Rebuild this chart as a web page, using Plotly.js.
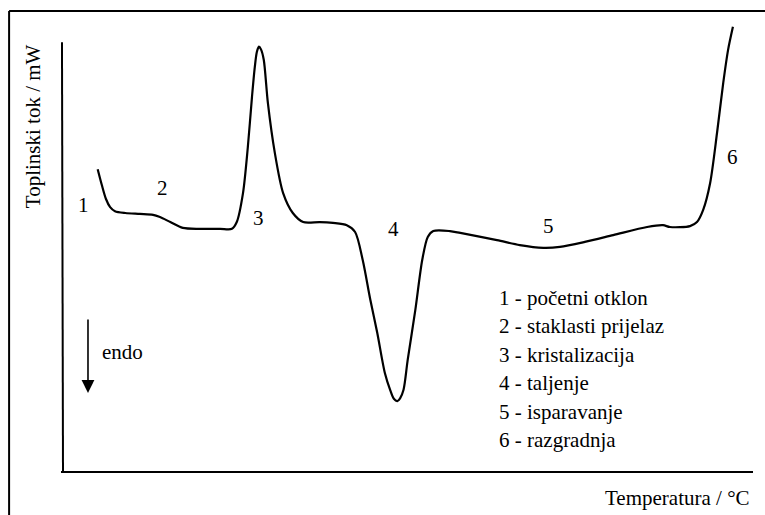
<!DOCTYPE html>
<html>
<head>
<meta charset="utf-8">
<script src="https://cdn.plot.ly/plotly-3.0.1.min.js"></script>
<style>
html,body{margin:0;padding:0;background:#fff;}
#chart{width:765px;height:515px;}
</style>
</head>
<body>
<div id="chart"></div>
<script>
// Temperature (arbitrary units) and heat flow (arbitrary units)
var temperature = [5.3, 5.9, 6.5, 7.1, 7.8, 9.3, 11.4, 13.3, 14.3, 15.8, 17.6, 20.1, 23.0, 24.7,
  25.4, 26.3, 27.0, 27.6, 28.0, 28.3, 28.6, 28.9, 29.3, 29.9, 30.9, 32.1, 33.5, 35.0, 37.4, 39.3,
  41.3, 42.5, 43.6, 44.7, 45.7, 46.8, 47.6, 48.1, 48.6, 49.0, 49.5, 50.1, 51.2, 52.2, 53.0, 53.8,
  56.2, 57.7, 63.0, 66.3, 69.7, 72.1, 75.7, 79.8, 84.7, 87.0, 88.0, 90.9, 91.9, 92.8,
  93.8, 94.8, 95.7, 96.4, 97.1];
var heatFlow = [67.0, 63.5, 60.4, 58.6, 57.7, 57.3, 57.1, 56.9, 56.4, 55.3, 54.0, 53.8, 53.8, 53.8,
  55.3, 61.7, 71.9, 83.0, 89.5, 92.9, 94.1, 93.5, 91.2, 81.6, 70.6, 61.7, 57.3, 55.3, 55.3, 55.1,
  54.6, 53.1, 46.9, 38.1, 30.8, 21.9, 18.0, 16.2, 15.7, 16.3, 18.2, 24.8, 35.8, 46.9, 52.0, 53.3,
  53.3, 52.9, 51.3, 50.2, 49.6, 49.8, 50.9, 52.4, 54.2, 54.6, 54.2, 54.4, 55.3, 58.0,
  63.9, 75.0, 86.1, 93.4, 98.5];

// Event labels on the curve
var eventLabels = ["1", "2", "3", "4", "5", "6"];
var eventX = [3.2, 14.7, 28.5, 48.1, 70.4, 97.0];
var eventY = [59.1, 62.8, 56.2, 53.8, 54.4, 69.7];

// Legend text
var legendLines = ["1 - početni otklon", "2 - staklasti prijelaz", "3 - kristalizacija",
  "4 - taljenje", "5 - isparavanje", "6 - razgradnja"];

var xTitle = "Temperatura / °C";
var yTitle = "Toplinski tok / mW";
var endoLabel = "endo";

var FONT = "'Liberation Serif', 'DejaVu Serif', serif";
var TXT = "#000";

var annotations = [];
for (var i = 0; i < eventLabels.length; i++) {
  annotations.push({x: eventX[i], y: eventY[i], xref: "x", yref: "y", text: eventLabels[i],
    showarrow: false, font: {family: FONT, size: 21, color: TXT}});
}
for (var j = 0; j < legendLines.length; j++) {
  annotations.push({x: 63.0, y: 38.5 - 6.3 * j, xref: "x", yref: "y", text: legendLines[j],
    xanchor: "left", yanchor: "middle", showarrow: false, font: {family: FONT, size: 21, color: TXT}});
}
annotations.push({x: 0.9986, y: -0.0575, xref: "paper", yref: "paper", text: xTitle,
  xanchor: "right", yanchor: "middle", showarrow: false, font: {family: FONT, size: 21, color: TXT}});
annotations.push({x: -0.0405, y: 0.765, xref: "paper", yref: "paper", text: yTitle, textangle: -90,
  xanchor: "center", yanchor: "middle", showarrow: false, font: {family: FONT, size: 21, color: TXT}});
annotations.push({x: 5.6, y: 26.6, xref: "x", yref: "y", text: endoLabel, xanchor: "left",
  yanchor: "middle", showarrow: false, font: {family: FONT, size: 21, color: TXT}});
annotations.push({x: 3.9, y: 17.5, xref: "x", yref: "y", text: "", showarrow: true,
  ax: 0, ay: -75, arrowhead: 2, arrowsize: 1.6, arrowwidth: 1.6, arrowcolor: "#000"});

var trace = {
  x: temperature, y: heatFlow, type: "scatter", mode: "lines",
  line: {color: "#000", width: 2.2, shape: "spline", smoothing: 0.8},
  hoverinfo: "skip"
};

var layout = {
  width: 765, height: 515,
  margin: {l: 61, r: 12, t: 20, b: 43},
  paper_bgcolor: "#fff", plot_bgcolor: "#fff",
  font: {family: FONT, size: 21, color: TXT},
  showlegend: false,
  xaxis: {range: [0, 100], showgrid: false, zeroline: false, showticklabels: false, ticks: "", showline: false},
  yaxis: {range: [0, 100], showgrid: false, zeroline: false, showticklabels: false, ticks: "", showline: false},
  annotations: annotations,
  shapes: [
    // outer frame (top and left edges visible)
    {type: "line", xref: "paper", yref: "paper", x0: -0.075, x1: 1.03, y0: 1.0199, y1: 1.0199, line: {color: "#000", width: 2}},
    {type: "line", xref: "paper", yref: "paper", x0: -0.075, x1: -0.075, y0: 1.0199, y1: -0.1, line: {color: "#000", width: 2}},
    // axes
    {type: "line", xref: "paper", yref: "paper", x0: 0.0014, x1: 0.0029, y0: 0.951, y1: 0, line: {color: "#000", width: 2}},
    {type: "line", xref: "paper", yref: "paper", x0: 0.0, x1: 1.0, y0: 0, y1: 0, line: {color: "#000", width: 2.2}}
  ]
};

Plotly.newPlot("chart", [trace], layout, {displayModeBar: false, staticPlot: true});
</script>
</body>
</html>
